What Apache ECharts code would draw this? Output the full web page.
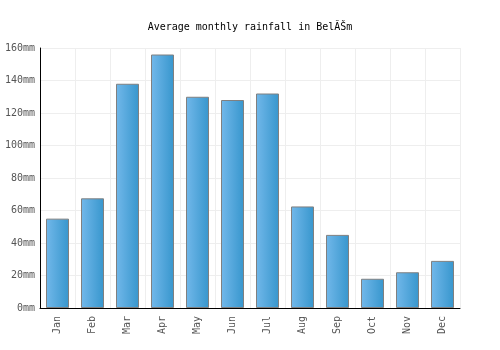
<!DOCTYPE html>
<html>
<head>
<meta charset="utf-8">
<script src="https://cdn.jsdelivr.net/npm/echarts@6/dist/echarts.min.js"></script>
<style>html,body{margin:0;padding:0;background:#fff}#c{width:500px;height:350px}</style>
</head>
<body>
<div id="c"></div>
<script>
const months = ["Jan","Feb","Mar","Apr","May","Jun","Jul","Aug","Sep","Oct","Nov","Dec"];
const rainfall = [55, 67.5, 138, 156, 130, 128, 132, 62.5, 45, 18, 22, 29];
const titleText = "Average monthly rainfall in BelĂŠm";
const font = "DejaVu Sans Mono";

const chart = echarts.init(document.getElementById('c'), null, {renderer: 'canvas'});
chart.setOption({
  animation: false,
  title: {
    text: titleText, left: 'center', top: 17,
    textStyle: {fontFamily: font, fontSize: 10, fontWeight: 'normal', color: '#000'}
  },
  grid: {left: 40, right: 40, top: 48, bottom: 42, containLabel: false},
  xAxis: {
    type: 'category', data: months,
    axisLine: {lineStyle: {color: '#000', width: 1}},
    axisTick: {show: false},
    splitLine: {show: true, lineStyle: {color: '#eeeeee'}},
    axisLabel: {rotate: 90, fontFamily: font, fontSize: 10, color: '#555', margin: 8}
  },
  yAxis: {
    type: 'value', min: 0, max: 160, interval: 20,
    axisLine: {show: true, lineStyle: {color: '#000', width: 1}},
    axisTick: {show: false},
    splitLine: {show: true, lineStyle: {color: '#eeeeee'}},
    axisLabel: {formatter: '{value}mm', fontFamily: font, fontSize: 10, color: '#555', margin: 5}
  },
  series: [{
    type: 'bar', data: rainfall, barWidth: 23,
    itemStyle: {
      color: new echarts.graphic.LinearGradient(0, 0, 1, 0, [
        {offset: 0, color: '#72b8ea'},
        {offset: 1, color: '#3796cd'}
      ]),
      borderColor: '#808080', borderWidth: 1
    }
  }]
});
</script>
</body>
</html>
